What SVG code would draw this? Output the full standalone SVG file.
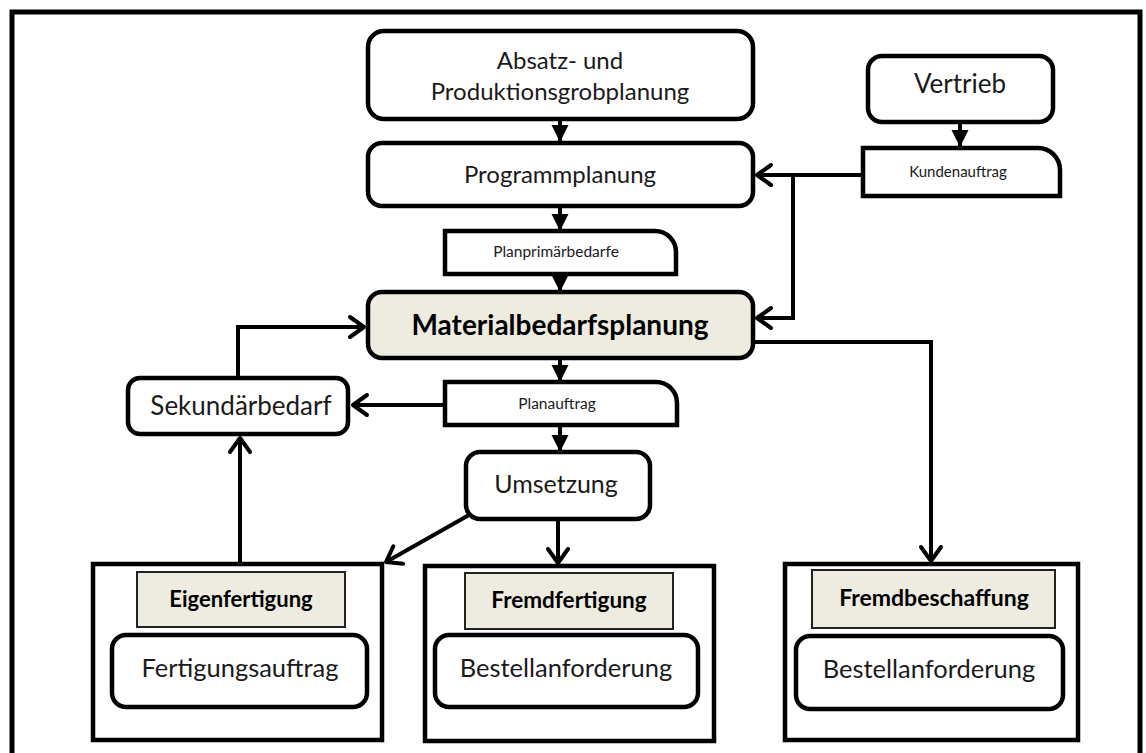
<svg xmlns="http://www.w3.org/2000/svg" width="1146" height="753" viewBox="0 0 1146 753">
<defs>
<style>
.box{fill:#fff;stroke:#000;stroke-width:4.5}
.hl{fill:#eeece1;stroke:#000;stroke-width:4.5}
.hdr{fill:#eeece1;stroke:#222;stroke-width:2}
.cont{fill:#fff;stroke:#000;stroke-width:4.5}
.t{font-family:Lato,"Liberation Sans",sans-serif;fill:#1a1a1a;text-anchor:middle}
.b{font-weight:bold;fill:#000}
.con{fill:none;stroke:#000;stroke-width:4}
</style>
<marker id="tri" markerUnits="userSpaceOnUse" viewBox="-18 -10 20 20" refX="0" refY="0" markerWidth="20" markerHeight="20" orient="auto" overflow="visible">
<path d="M-17,-8.5 L0,0 L-17,8.5 Z" fill="#000"/>
</marker>
<marker id="chev" markerUnits="userSpaceOnUse" viewBox="-18 -12 20 24" refX="0" refY="0" markerWidth="20" markerHeight="24" orient="auto" overflow="visible">
<path d="M-14,-10 L0,0 L-14,10" fill="none" stroke="#000" stroke-width="4" stroke-linecap="round" stroke-linejoin="round"/>
</marker>
</defs>
<rect width="1146" height="753" fill="#fff"/>
<path d="M12,760 V12 H1140 V760" fill="none" stroke="#000" stroke-width="5"/>

<g id="connectors">
<line class="con" x1="560" y1="119" x2="560" y2="142" marker-end="url(#tri)"/>
<line class="con" x1="960" y1="122" x2="960" y2="147" marker-end="url(#tri)"/>
<line class="con" x1="560" y1="206" x2="560" y2="231" marker-end="url(#tri)"/>
<line class="con" x1="560" y1="274" x2="560" y2="292" marker-end="url(#tri)"/>
<line class="con" x1="560" y1="358" x2="560" y2="382" marker-end="url(#tri)"/>
<line class="con" x1="560" y1="425" x2="560" y2="452" marker-end="url(#tri)"/>
<line class="con" x1="863" y1="175" x2="757" y2="175" marker-end="url(#chev)"/>
<path class="con" d="M793,175 V318 H757" marker-end="url(#chev)"/>
<path class="con" d="M753,342 H931 V561" marker-end="url(#chev)"/>
<line class="con" x1="445" y1="405" x2="353" y2="405" marker-end="url(#chev)"/>
<path class="con" d="M238,378 V327 H364" marker-end="url(#chev)"/>
<line class="con" x1="240" y1="564" x2="240" y2="438" marker-end="url(#chev)"/>
<line class="con" x1="558" y1="519" x2="558" y2="563" marker-end="url(#chev)"/>
<line class="con" x1="469" y1="515" x2="386" y2="562" marker-end="url(#chev)"/>
</g>

<g id="absatz">
<rect class="box" x="368" y="31" width="385" height="88" rx="16"/>
<text class="t" x="560" y="69" font-size="24">Absatz- und</text>
<text class="t" x="560" y="100" font-size="24">Produktionsgrobplanung</text>
</g>
<g id="programmplanung">
<rect class="box" x="368" y="143" width="385" height="63" rx="14"/>
<text class="t" x="560" y="183" font-size="24">Programmplanung</text>
</g>
<g id="vertrieb">
<rect class="box" x="868" y="56" width="185" height="66" rx="14"/>
<text class="t" x="960" y="93" font-size="26">Vertrieb</text>
</g>
<g id="kundenauftrag">
<path class="box" d="M863,148 H1038 A22,22 0 0 1 1060,170 V196 H863 Z"/>
<text class="t" x="958" y="177" font-size="15">Kundenauftrag</text>
</g>
<g id="planprimaerbedarfe">
<path class="box" d="M445,231 H655 A21,21 0 0 1 676,252 V274 H445 Z"/>
<text class="t" x="556" y="257" font-size="15.5">Planprimärbedarfe</text>
</g>
<g id="materialbedarfsplanung">
<rect class="hl" x="368" y="292" width="385" height="66" rx="14"/>
<text class="t b" x="560" y="335" font-size="28">Materialbedarfsplanung</text>
</g>
<g id="planauftrag">
<path class="box" d="M445,382 H656 A21,21 0 0 1 677,403 V425 H445 Z"/>
<text class="t" x="557" y="409" font-size="15.5">Planauftrag</text>
</g>
<g id="sekundaerbedarf">
<rect class="box" x="128" y="378" width="220" height="56" rx="12"/>
<text class="t" x="241" y="415" font-size="26">Sekundärbedarf</text>
</g>
<g id="umsetzung">
<rect class="box" x="466" y="452" width="184" height="67" rx="14"/>
<text class="t" x="556" y="493" font-size="25">Umsetzung</text>
</g>
<g id="eigenfertigung">
<rect class="cont" x="93" y="564" width="289" height="176"/>
<rect class="hdr" x="137" y="572" width="208" height="55"/>
<text class="t b" x="241" y="607" font-size="22">Eigenfertigung</text>
<rect class="box" x="112" y="635" width="255" height="72" rx="14"/>
<text class="t" x="240" y="677" font-size="25.5">Fertigungsauftrag</text>
</g>
<g id="fremdfertigung">
<rect class="cont" x="425" y="566" width="289" height="175"/>
<rect class="hdr" x="465" y="573" width="208" height="56"/>
<text class="t b" x="569" y="608" font-size="22.5">Fremdfertigung</text>
<rect class="box" x="435" y="635" width="263" height="72" rx="14"/>
<text class="t" x="566" y="677" font-size="25.5">Bestellanforderung</text>
</g>
<g id="fremdbeschaffung">
<rect class="cont" x="785" y="564" width="293" height="176"/>
<rect class="hdr" x="812" y="570" width="243" height="58"/>
<text class="t b" x="934" y="606" font-size="23">Fremdbeschaffung</text>
<rect class="box" x="796" y="636" width="267" height="73" rx="14"/>
<text class="t" x="929" y="678" font-size="25.5">Bestellanforderung</text>
</g>
</svg>
